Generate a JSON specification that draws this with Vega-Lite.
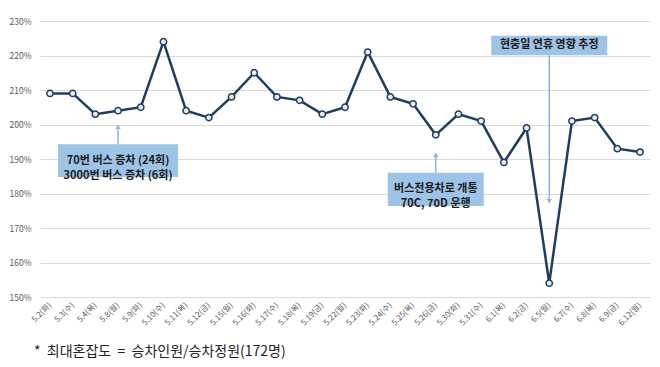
{
  "$schema": "https://vega.github.io/schema/vega-lite/v6.json",
  "width": 610,
  "height": 276,
  "autosize": {"type": "none"},
  "padding": {"left": 40, "top": 21, "right": 10, "bottom": 70},
  "background": "white",
  "config": {"view": {"stroke": null}, "font": "Noto Sans CJK KR"},
  "title": {"text": "*\u00a0\u00a0최대혼잡도\u00a0\u00a0=\u00a0\u00a0승차인원/승차정원(172명)", "orient": "bottom", "anchor": "start", "frame": "group", "dx": -6, "offset": 18, "fontSize": 14, "fontWeight": "normal", "color": "#222222", "font": "Noto Sans CJK KR"},
  "datasets": {
    "main": [
      {"date": "5.2(화)", "v": 209}, {"date": "5.3(수)", "v": 209}, {"date": "5.4(목)", "v": 203},
      {"date": "5.8(월)", "v": 204}, {"date": "5.9(화)", "v": 205}, {"date": "5.10(수)", "v": 224},
      {"date": "5.11(목)", "v": 204}, {"date": "5.12(금)", "v": 202}, {"date": "5.15(월)", "v": 208},
      {"date": "5.16(화)", "v": 215}, {"date": "5.17(수)", "v": 208}, {"date": "5.18(목)", "v": 207},
      {"date": "5.19(금)", "v": 203}, {"date": "5.22(월)", "v": 205}, {"date": "5.23(화)", "v": 221},
      {"date": "5.24(수)", "v": 208}, {"date": "5.25(목)", "v": 206}, {"date": "5.26(금)", "v": 197},
      {"date": "5.30(화)", "v": 203}, {"date": "5.31(수)", "v": 201}, {"date": "6.1(목)", "v": 189},
      {"date": "6.2(금)", "v": 199}, {"date": "6.5(월)", "v": 154}, {"date": "6.7(수)", "v": 201},
      {"date": "6.8(목)", "v": 202}, {"date": "6.9(금)", "v": 193}, {"date": "6.12(월)", "v": 192}
    ],
    "arrows": [
      {"date": "5.8(월)", "from": 194.3, "to": 198.5, "head": 199.3, "dir": "up"},
      {"date": "5.26(금)", "from": 186, "to": 190.5, "head": 191.2, "dir": "up"},
      {"date": "6.5(월)", "from": 220.1, "to": 178.6, "head": 177.8, "dir": "down"}
    ]
  },
  "encoding": {
    "x": {
      "field": "date", "type": "ordinal", "sort": null,
      "scale": {"type": "point", "padding": 0.44},
      "axis": {"title": null, "labelAngle": -45, "labelAlign": "right", "labelBaseline": "middle", "labelFontSize": 8, "labelColor": "#595959", "ticks": false, "domain": false, "grid": false, "labelPadding": 7}
    }
  },
  "layer": [
    {
      "data": {"name": "main"},
      "mark": {"type": "line", "color": "#1f3d60", "strokeWidth": 2.5},
      "encoding": {
        "y": {"field": "v", "type": "quantitative", "scale": {"domain": [150, 230]},
          "axis": {"title": null, "values": [150, 160, 170, 180, 190, 200, 210, 220, 230], "labelOverlap": false, "labelExpr": "datum.value + '%'", "labelFontSize": 8.5, "labelColor": "#595959", "ticks": false, "domain": false, "gridColor": "#d9d9d9", "gridWidth": 1, "labelPadding": 9}}
      }
    },
    {
      "data": {"name": "arrows"},
      "mark": {"type": "rule", "color": "#8db3d9", "strokeWidth": 1.5},
      "encoding": {"y": {"field": "from", "type": "quantitative",
          "axis": {"title": null, "values": [150, 160, 170, 180, 190, 200, 210, 220, 230], "labelOverlap": false, "labelExpr": "datum.value + '%'", "labelFontSize": 8.5, "labelColor": "#595959", "ticks": false, "domain": false, "gridColor": "#d9d9d9", "gridWidth": 1, "labelPadding": 9}}, "y2": {"field": "to"}}
    },
    {
      "data": {"name": "arrows"},
      "mark": {"type": "point", "filled": true, "color": "#8db3d9", "size": 28, "opacity": 1},
      "encoding": {
        "y": {"field": "head", "type": "quantitative",
          "axis": {"title": null, "values": [150, 160, 170, 180, 190, 200, 210, 220, 230], "labelOverlap": false, "labelExpr": "datum.value + '%'", "labelFontSize": 8.5, "labelColor": "#595959", "ticks": false, "domain": false, "gridColor": "#d9d9d9", "gridWidth": 1, "labelPadding": 9}},
        "shape": {"field": "dir", "type": "nominal", "scale": {"domain": ["up", "down"], "range": ["triangle-up", "triangle-down"]}, "legend": null}
      }
    },
    {
      "data": {"values": [{"date": "5.8(월)", "top": 194.3, "bottom": 184.8}]},
      "mark": {"type": "bar", "width": 120, "color": "#9dc3e6"},
      "encoding": {"y": {"field": "top", "type": "quantitative",
          "axis": {"title": null, "values": [150, 160, 170, 180, 190, 200, 210, 220, 230], "labelOverlap": false, "labelExpr": "datum.value + '%'", "labelFontSize": 8.5, "labelColor": "#595959", "ticks": false, "domain": false, "gridColor": "#d9d9d9", "gridWidth": 1, "labelPadding": 9}}, "y2": {"field": "bottom"}}
    },
    {
      "data": {"values": [{"date": "5.26(금)", "top": 186, "bottom": 176.4}]},
      "mark": {"type": "bar", "width": 96, "color": "#9dc3e6"},
      "encoding": {"y": {"field": "top", "type": "quantitative",
          "axis": {"title": null, "values": [150, 160, 170, 180, 190, 200, 210, 220, 230], "labelOverlap": false, "labelExpr": "datum.value + '%'", "labelFontSize": 8.5, "labelColor": "#595959", "ticks": false, "domain": false, "gridColor": "#d9d9d9", "gridWidth": 1, "labelPadding": 9}}, "y2": {"field": "bottom"}}
    },
    {
      "data": {"values": [{"date": "6.5(월)", "top": 225.7, "bottom": 220.1}]},
      "mark": {"type": "bar", "width": 116, "color": "#9dc3e6"},
      "encoding": {"y": {"field": "top", "type": "quantitative",
          "axis": {"title": null, "values": [150, 160, 170, 180, 190, 200, 210, 220, 230], "labelOverlap": false, "labelExpr": "datum.value + '%'", "labelFontSize": 8.5, "labelColor": "#595959", "ticks": false, "domain": false, "gridColor": "#d9d9d9", "gridWidth": 1, "labelPadding": 9}}, "y2": {"field": "bottom"}}
    },
    {
      "data": {"values": [
        {"date": "5.8(월)", "y": 189.5, "label": ["70번 버스 증차 (24회)", "3000번 버스 증차 (6회)"]},
        {"date": "5.26(금)", "y": 181.2, "label": ["버스전용차로 개통", "70C, 70D 운행"]},
        {"date": "6.5(월)", "y": 222.9, "label": "현충일 연휴 영향 추정"}
      ]},
      "mark": {"type": "text", "fontSize": 11, "fontWeight": "bold", "color": "#1a1a1a", "lineHeight": 15, "baseline": "middle", "align": "center"},
      "encoding": {"y": {"field": "y", "type": "quantitative",
          "axis": {"title": null, "values": [150, 160, 170, 180, 190, 200, 210, 220, 230], "labelOverlap": false, "labelExpr": "datum.value + '%'", "labelFontSize": 8.5, "labelColor": "#595959", "ticks": false, "domain": false, "gridColor": "#d9d9d9", "gridWidth": 1, "labelPadding": 9}}, "text": {"field": "label"}}
    },
    {
      "data": {"name": "main"},
      "mark": {"type": "point", "filled": true, "fill": "#e9edf2", "stroke": "#1f3d60", "strokeWidth": 1.5, "size": 40, "opacity": 1},
      "encoding": {"y": {"field": "v", "type": "quantitative",
          "axis": {"title": null, "values": [150, 160, 170, 180, 190, 200, 210, 220, 230], "labelOverlap": false, "labelExpr": "datum.value + '%'", "labelFontSize": 8.5, "labelColor": "#595959", "ticks": false, "domain": false, "gridColor": "#d9d9d9", "gridWidth": 1, "labelPadding": 9}}}
    }
  ]
}
